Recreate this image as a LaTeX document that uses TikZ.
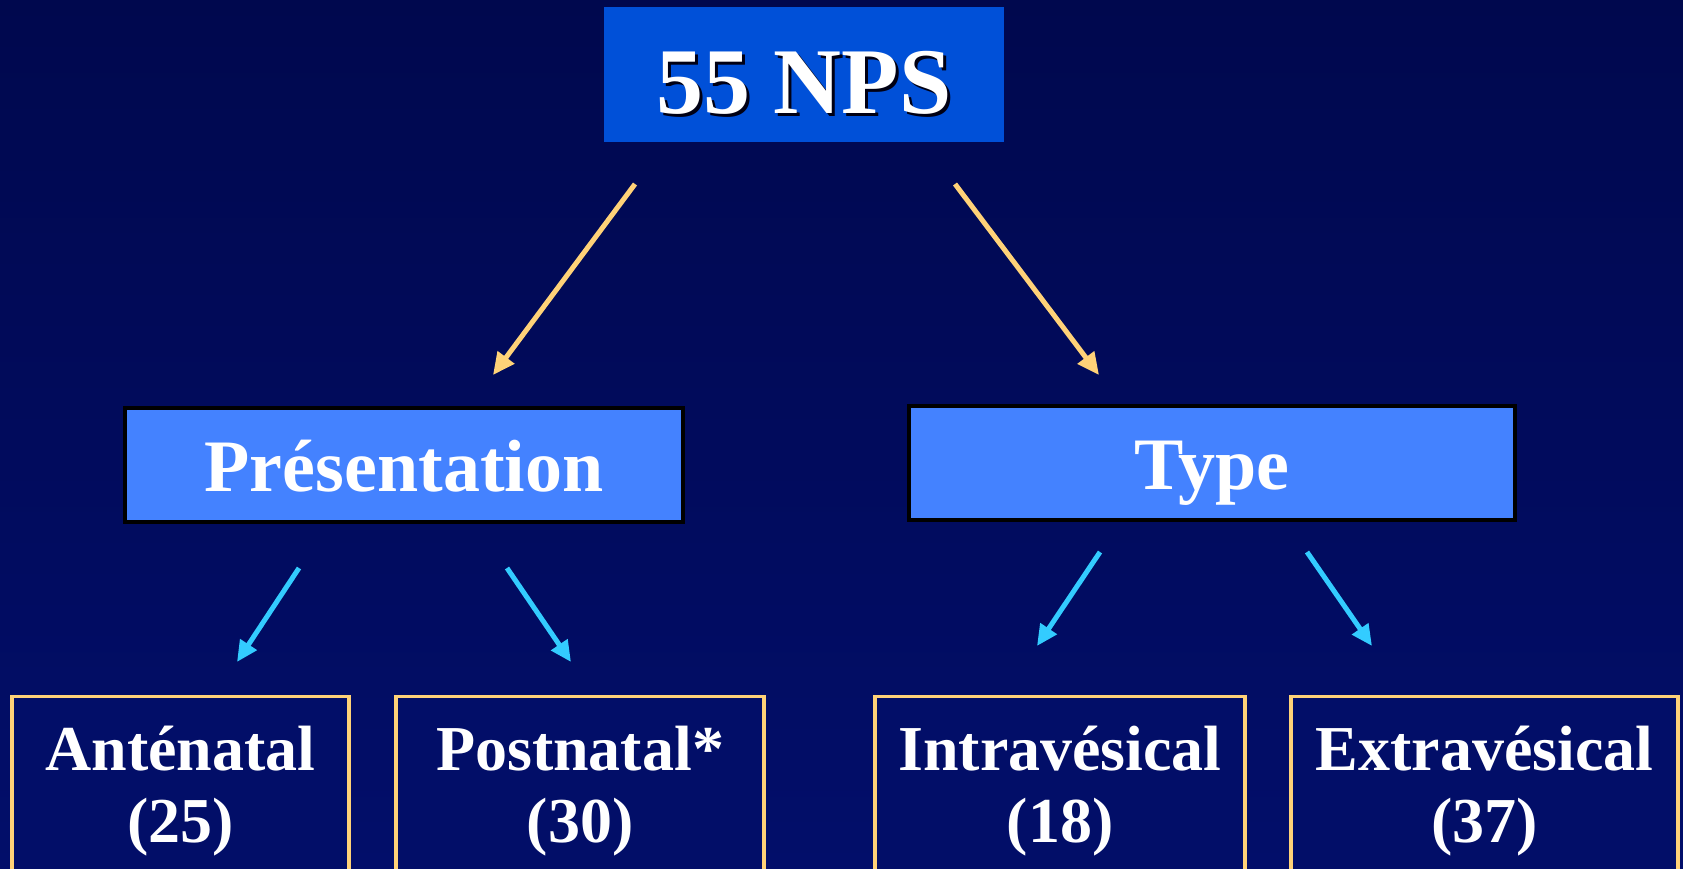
\documentclass[tikz,border=0pt]{standalone}
\usepackage{fontspec}
\setmainfont{Liberation Serif}
\usetikzlibrary{arrows.meta,positioning}

\definecolor{navytop}{RGB}{0,8,78}
\definecolor{navybot}{RGB}{2,14,106}
\definecolor{npsblue}{RGB}{0,80,216}
\definecolor{boxblue}{RGB}{68,130,255}
\definecolor{leafnavy}{RGB}{2,14,104}
\definecolor{goldline}{RGB}{255,210,120}
\definecolor{skyline}{RGB}{51,204,255}
\definecolor{shadowcol}{RGB}{0,0,20}

% white title text with a small dark drop shadow
\newcommand{\dropshadow}[1]{\rlap{\hspace*{3pt}\raisebox{-3pt}{\color{shadowcol}#1}}#1}

\begin{document}
\begin{tikzpicture}[x=1pt,y=-1pt,
  topbox/.style={fill=npsblue, minimum width=400pt, minimum height=135pt,
    inner sep=0pt, text=white, text height=85pt, text depth=8pt,
    font=\fontsize{94}{100}\selectfont\bfseries},
  midbox/.style={fill=boxblue, draw=black, line width=4pt, minimum height=114pt,
    inner sep=0pt, text=white, text height=66pt, text depth=13pt,
    font=\fontsize{74}{80}\selectfont\bfseries},
  leafbox/.style={fill=leafnavy, draw=goldline, line width=3.5pt, anchor=north,
    align=center, inner sep=0pt, text=white, text height=146pt, text depth=120pt,
    font=\fontsize{64}{72}\selectfont\bfseries},
  goldarrow/.style={draw=goldline, line width=5pt, -{Triangle[length=22pt,width=20pt]}},
  skyarrow/.style={draw=skyline, line width=5pt, -{Triangle[length=21pt,width=19pt]}},
]
  \useasboundingbox (0,0) rectangle (1683,868);
  \clip (0,0) rectangle (1683,868);
  \shade[top color=navytop, bottom color=navybot] (0,0) rectangle (1683,868);

  % root and the two criteria
  \node[topbox] (nps) at (804,74.5) {\dropshadow{55 NPS}};
  \node[midbox, minimum width=558pt] (pres) at (404,465) {Présentation};
  \node[midbox, minimum width=606pt] (type) at (1212,463) {Type};

  % leaves (run off the bottom edge)
  \node[leafbox, minimum width=337pt] (ante) at (180.5,694.7) {Anténatal\\(25)};
  \node[leafbox, minimum width=368pt] (post) at (580,694.7) {Postnatal*\\(30)};
  \node[leafbox, minimum width=370pt] (intra) at (1060,694.7) {Intravésical\\(18)};
  \node[leafbox, minimum width=387pt] (extra) at (1484.5,694.7) {Extravésical\\(37)};

  % arrow ends float between the boxes
  \coordinate (npsL) at (635,184);   \coordinate (presIn) at (493,375);
  \coordinate (npsR) at (955,184);   \coordinate (typeIn) at (1099,375);
  \coordinate (presL) at (299,568);  \coordinate (anteIn) at (237,662);
  \coordinate (presR) at (507,568);  \coordinate (postIn) at (571,662);
  \coordinate (typeL) at (1100,552); \coordinate (intraIn) at (1037,646);
  \coordinate (typeR) at (1307,552); \coordinate (extraIn) at (1372,646);

  \draw[goldarrow] (npsL) -- (presIn);
  \draw[goldarrow] (npsR) -- (typeIn);
  \draw[skyarrow] (presL) -- (anteIn);
  \draw[skyarrow] (presR) -- (postIn);
  \draw[skyarrow] (typeL) -- (intraIn);
  \draw[skyarrow] (typeR) -- (extraIn);
\end{tikzpicture}
\end{document}
